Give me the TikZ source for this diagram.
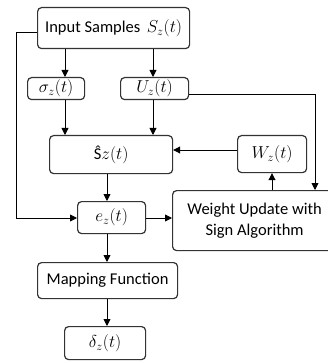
\documentclass[tikz,border=0pt]{standalone}
\usepackage{fontspec}
\setmainfont{Carlito}
\usetikzlibrary{arrows.meta,calc}
\begin{document}
\begin{tikzpicture}[x=1pt,y=-1pt,
  blk/.style={draw=black!80, line width=1.2pt, rounded corners=4pt, anchor=north west,
    inner sep=0pt, align=center, font=\fontsize{16.5}{21}\selectfont},
  flow/.style={draw=black, line width=0.9pt, -{Triangle[length=7pt,width=7pt]}},
  wire/.style={draw=black, line width=0.9pt}]
\useasboundingbox (0,0) rectangle (327,363);
% blocks
\node[blk, minimum width=152pt, minimum height=41pt] (inp) at (37,7) {Input Samples\, $S_z(t)$};
\node[blk, minimum width=57pt, minimum height=22pt] (sig) at (27,77) {$\sigma_z(t)$};
\node[blk, minimum width=68pt, minimum height=22pt] (U) at (120,77) {$U_z(t)$};
\node[blk, minimum width=123pt, minimum height=38pt] (shat) at (49,135) {Ŝ$z(t)$};
\node[blk, minimum width=69pt, minimum height=37pt] (W) at (237,135) {$W_z(t)$};
\node[blk, minimum width=68pt, minimum height=32pt] (e) at (77,201) {$e_z(t)$};
\node[blk, minimum width=164pt, minimum height=60pt] (wu) at (172,190) {Weight Update with\\Sign Algorithm};
\node[blk, minimum width=140pt, minimum height=36pt] (map) at (37,262) {Mapping Function};
\node[blk, minimum width=81pt, minimum height=33pt] (del) at (64,326) {$\delta_z(t)$};
% column guides
\coordinate (cA) at (65,0);
\coordinate (cB) at (153,0);
\coordinate (cC) at (107,0);
\coordinate (cD) at (315,0);
\coordinate (cE) at (272,0);
\coordinate (cL) at (16,0);
\coordinate (rIn) at (0,32);
\coordinate (rU) at (0,94);
\coordinate (rW) at (0,150);
\coordinate (rE) at (0,218);
% connectors
\draw[flow] (inp.south -| cA) -- (sig.north -| cA);
\draw[flow] (inp.south -| cB) -- (U.north -| cB);
\draw[flow] (sig.south -| cA) -- (shat.north -| cA);
\draw[flow] (U.south -| cB) -- (shat.north -| cB);
\draw[flow] (inp.west |- rIn) -- (cL |- rIn) -- (cL |- rE) -- (e.west |- rE);
\draw[flow] (U.east |- rU) -- (cD |- rU) -- (wu.north -| cD);
\draw[flow] (W.west |- rW) -- (shat.east |- rW);
\draw[flow] (wu.north -| cE) -- (W.south -| cE);
\draw[flow] (shat.south -| cC) -- (e.north -| cC);
\draw[flow] (e.east |- rE) -- (wu.west |- rE);
\draw[flow] (e.south -| cC) -- (map.north -| cC);
\draw[flow] (map.south -| cC) -- (del.north -| cC);
\end{tikzpicture}
\end{document}
